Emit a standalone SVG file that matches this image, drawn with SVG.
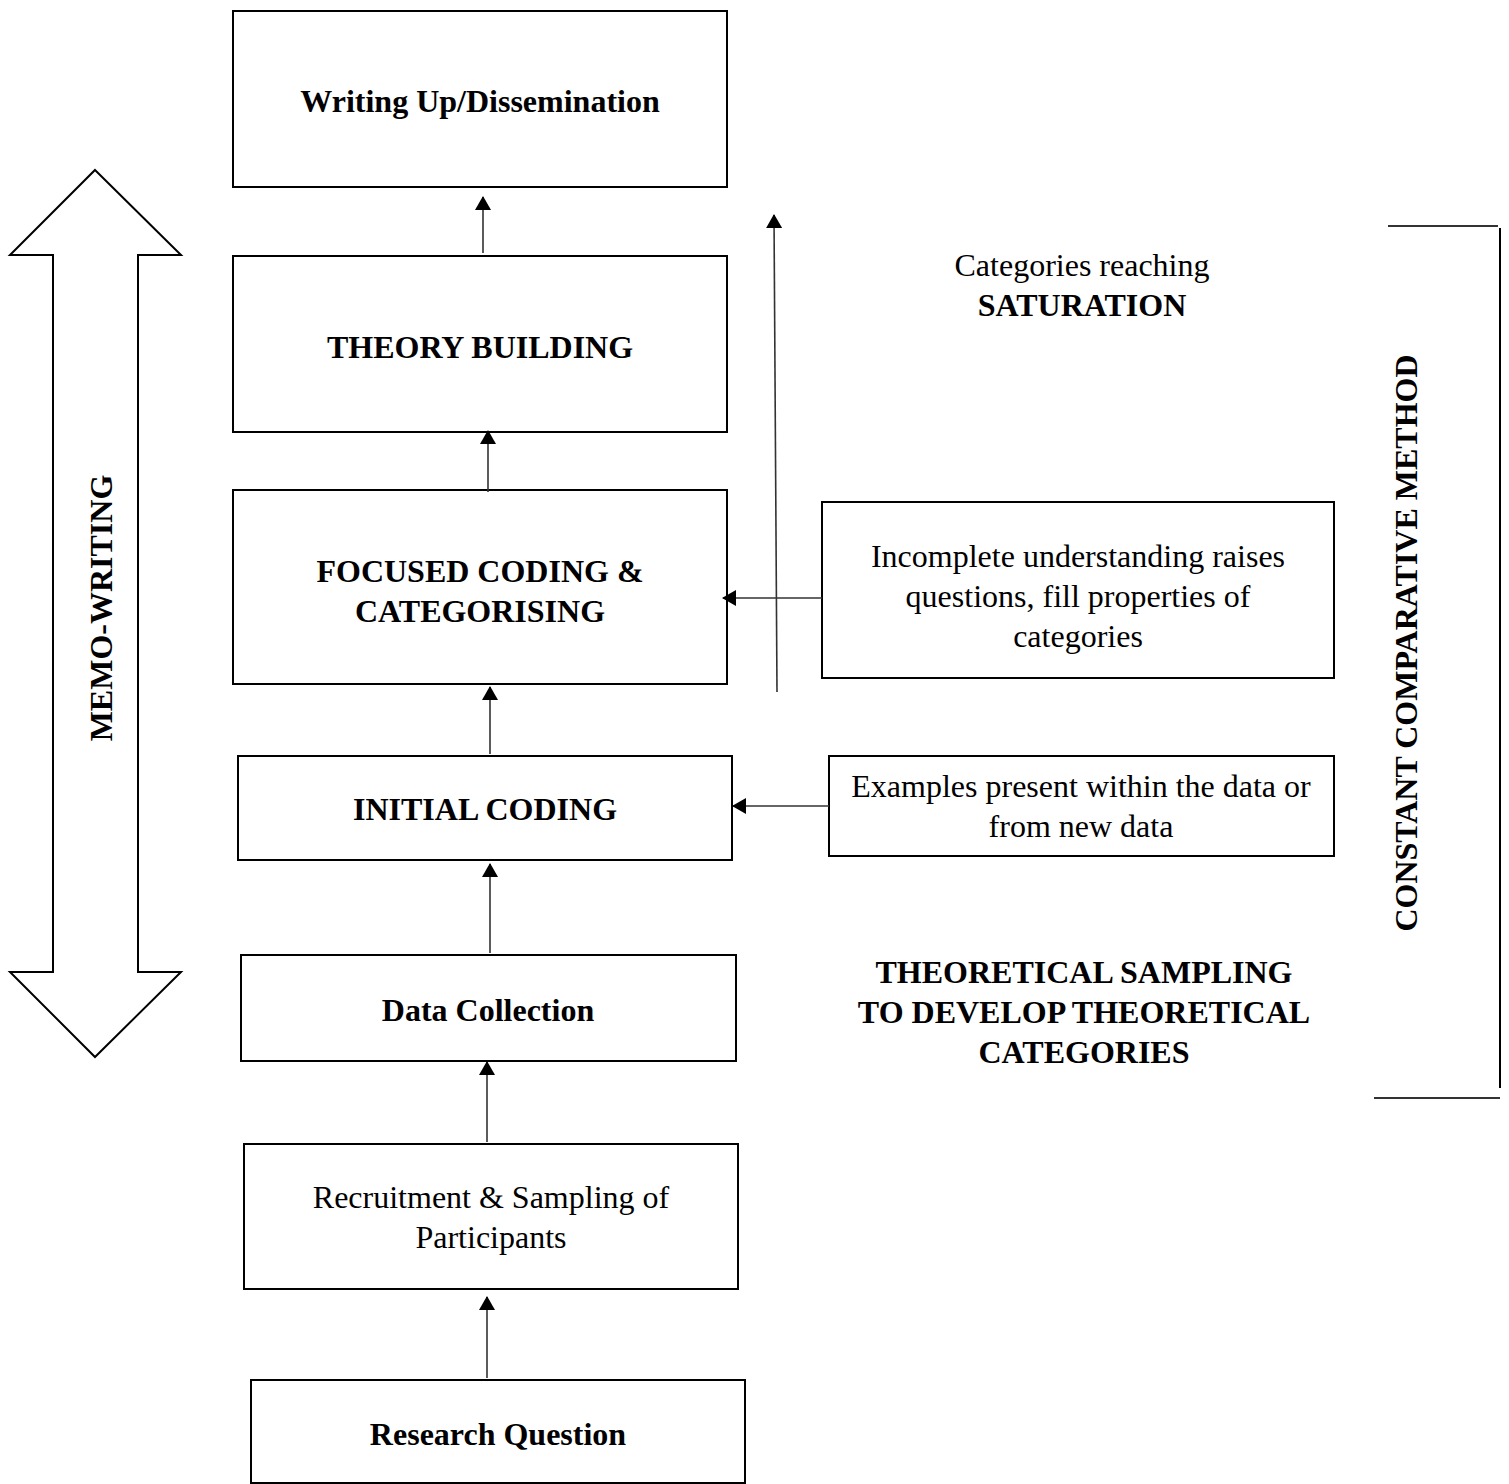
<svg xmlns="http://www.w3.org/2000/svg" width="1509" height="1484" viewBox="0 0 1509 1484">
  <defs>
    <marker id="head" viewBox="0 0 14 16" refX="13" refY="8" markerWidth="14" markerHeight="16" markerUnits="userSpaceOnUse" orient="auto">
      <path d="M0,0 L14,8 L0,16 Z" fill="#000"/>
    </marker>
    <style>
      .box { fill: #fff; stroke: #000; stroke-width: 2; }
      .t { font-family: "Liberation Serif", "Times New Roman", serif; font-size: 32px; fill: #000; text-anchor: middle; }
      .b { font-weight: bold; }
      .arr { stroke: #333; stroke-width: 1.6; fill: none; marker-end: url(#head); }
      .ln { stroke: #333; stroke-width: 2; fill: none; }
    </style>
  </defs>
  <rect width="1509" height="1484" fill="#fff"/>

  <!-- memo-writing double arrow -->
  <g id="memo-writing">
    <path d="M95,170 L181,255 L138,255 L138,972 L181,972 L95,1057 L10,972 L53,972 L53,255 L10,255 Z" fill="#fff" stroke="#000" stroke-width="2" stroke-linejoin="miter"/>
    <text class="t b" transform="translate(112,608) rotate(-90)">MEMO-WRITING</text>
  </g>

  <!-- constant comparative method bracket -->
  <g id="constant-comparative">
    <path class="ln" d="M1388,226 L1498,226"/>
    <path d="M1500,228 L1500,1088" stroke="#000" stroke-width="2" fill="none"/>
    <path class="ln" d="M1374,1098 L1500,1098"/>
    <text class="t b" transform="translate(1417,643) rotate(-90)">CONSTANT COMPARATIVE METHOD</text>
  </g>

  <g id="writing-up">
    <rect class="box" x="233" y="11" width="494" height="176"/>
    <text class="t b" x="480" y="112">Writing Up/Dissemination</text>
  </g>
  <g id="theory-building">
    <rect class="box" x="233" y="256" width="494" height="176"/>
    <text class="t b" x="480" y="358">THEORY BUILDING</text>
  </g>
  <g id="focused-coding">
    <rect class="box" x="233" y="490" width="494" height="194"/>
    <text class="t b" x="480" y="582">FOCUSED CODING &amp;</text>
    <text class="t b" x="480" y="622">CATEGORISING</text>
  </g>
  <g id="initial-coding">
    <rect class="box" x="238" y="756" width="494" height="104"/>
    <text class="t b" x="485" y="820">INITIAL CODING</text>
  </g>
  <g id="data-collection">
    <rect class="box" x="241" y="955" width="495" height="106"/>
    <text class="t b" x="488" y="1021">Data Collection</text>
  </g>
  <g id="recruitment">
    <rect class="box" x="244" y="1144" width="494" height="145"/>
    <text class="t" x="491" y="1208">Recruitment &amp; Sampling of</text>
    <text class="t" x="491" y="1248">Participants</text>
  </g>
  <g id="research-question">
    <rect class="box" x="251" y="1380" width="494" height="103"/>
    <text class="t b" x="498" y="1445">Research Question</text>
  </g>
  <g id="incomplete-understanding">
    <rect class="box" x="822" y="502" width="512" height="176"/>
    <text class="t" x="1078" y="567">Incomplete understanding raises</text>
    <text class="t" x="1078" y="607">questions, fill properties of</text>
    <text class="t" x="1078" y="647">categories</text>
  </g>
  <g id="examples">
    <rect class="box" x="829" y="756" width="505" height="100"/>
    <text class="t" x="1081" y="797">Examples present within the data or</text>
    <text class="t" x="1081" y="837">from new data</text>
  </g>
  <g id="saturation">
    <text class="t" x="1082" y="276">Categories reaching</text>
    <text class="t b" x="1082" y="316">SATURATION</text>
  </g>
  <g id="theoretical-sampling">
    <text class="t b" x="1084" y="983">THEORETICAL SAMPLING</text>
    <text class="t b" x="1084" y="1023">TO DEVELOP THEORETICAL</text>
    <text class="t b" x="1084" y="1063">CATEGORIES</text>
  </g>

  <g id="connectors">
    <path class="arr" d="M483,253 L483,197"/>
    <path class="arr" d="M488,492 L488,431"/>
    <path class="arr" d="M490,754 L490,687"/>
    <path class="arr" d="M490,953 L490,864"/>
    <path class="arr" d="M487,1142 L487,1062"/>
    <path class="arr" d="M487,1378 L487,1297"/>
    <path class="arr" d="M777,692 L774,215"/>
    <path class="arr" d="M822,598 L723,598"/>
    <path class="arr" d="M829,806 L733,806"/>
  </g>
</svg>
